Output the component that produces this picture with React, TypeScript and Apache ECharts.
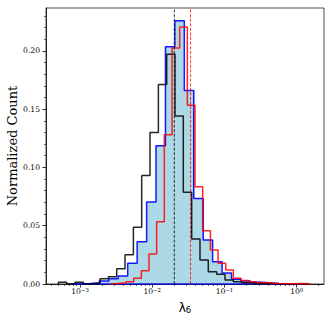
import React, { useEffect, useRef } from "react";
import * as echarts from "echarts";

// x axis is drawn in log10(lambda_6) space
const X_MIN_LOG = -3.471;
const X_MAX_LOG = 0.378;
const Y_MIN = 0;
const Y_MAX = 0.2367;

const X_MAJOR_TICKS = [-3, -2, -1, 0];
const X_TICK_EXPONENTS = ["\u22123", "\u22122", "\u22121", "0"];
const Y_MAJOR_TICKS = [0, 0.05, 0.1, 0.15, 0.2];
const Y_MINOR_TICKS = [0.01, 0.02, 0.03, 0.04, 0.06, 0.07, 0.08, 0.09, 0.11, 0.12, 0.13, 0.14, 0.16, 0.17, 0.18, 0.19, 0.21, 0.22, 0.23];
const X_MINOR_MULTIPLIERS = [2, 3, 4, 5, 6, 7, 8, 9];
const X_MINOR_DECADES = [-4, -3, -2, -1, 0];

// bin edges, log10(lambda_6)
const BLACK_EDGES = [-3.299, -3.184, -3.068, -2.953, -2.838, -2.723, -2.607, -2.492, -2.377, -2.261, -2.146, -2.031, -1.915, -1.8, -1.685, -1.57, -1.454, -1.339, -1.224, -1.108, -0.993, -0.878, -0.762, -0.647, -0.532, -0.417, -0.301, -0.186, -0.071, 0.045, 0.16];
const BLACK_COUNTS = [0.0015, 0.0003, 0.0015, 0, 0.0006, 0.0045, 0.0063, 0.013, 0.025, 0.0487, 0.093, 0.13, 0.171, 0.197, 0.144, 0.0786, 0.0385, 0.0206, 0.0106, 0.0084, 0.0035, 0.002, 0.001, 0.0005, 0.0003, 0.0002, 0, 0.0001, 0, 0.0001];

const BLUE_EDGES = [-3.124, -2.993, -2.862, -2.732, -2.601, -2.471, -2.34, -2.209, -2.078, -1.948, -1.817, -1.687, -1.556, -1.425, -1.294, -1.164, -1.033, -0.902, -0.772, -0.641, -0.51, -0.379, -0.249, -0.118, 0.013, 0.143];
const BLUE_COUNTS = [0.0003, 0.0005, 0.001, 0.0025, 0.0045, 0.0069, 0.0177, 0.0363, 0.0703, 0.1186, 0.2034, 0.2257, 0.166, 0.0734, 0.0377, 0.0191, 0.0094, 0.004, 0.0025, 0.0015, 0.001, 0.0005, 0.0003, 0.0002, 0.0001];

const RED_EDGES = [-2.576, -2.47, -2.364, -2.257, -2.151, -2.045, -1.939, -1.833, -1.726, -1.62, -1.514, -1.408, -1.302, -1.195, -1.089, -0.983, -0.877, -0.771, -0.664, -0.558, -0.452, -0.346, -0.24, -0.133, -0.027, 0.079, 0.185];
const RED_COUNTS = [0.0005, 0.001, 0.002, 0.0049, 0.0114, 0.0257, 0.0534, 0.128, 0.2025, 0.2205, 0.1534, 0.0834, 0.0457, 0.0291, 0.0177, 0.012, 0.0049, 0.003, 0.002, 0.0012, 0.0008, 0.0005, 0.0003, 0.0002, 0.0005, 0.0003];

// medians (lambda_6 values)
const MEDIAN_BLACK = 0.0202;
const MEDIAN_RED = 0.0339;

const SERIF = "DejaVu Serif";

function stepPoints(edges: number[], counts: number[], closeBase: boolean) {
  const pts: number[][] = [[edges[0], 0]];
  counts.forEach((c, i) => {
    pts.push([edges[i], c]);
    pts.push([edges[i + 1], c]);
  });
  pts.push([edges[counts.length], 0]);
  if (closeBase) pts.push([edges[0], 0]);
  return pts;
}

function vline(value: number) {
  const lx = Math.log10(value);
  return [
    [lx, Y_MIN],
    [lx, Y_MAX],
  ];
}

export default function App() {
  const ref = useRef<HTMLDivElement>(null);
  useEffect(() => {
    if (!ref.current) return;
    const chart = echarts.init(ref.current, null, { renderer: "svg" });
    const xMinor: number[] = [];
    X_MINOR_DECADES.forEach((d) =>
      X_MINOR_MULTIPLIERS.forEach((m) => {
        const v = Math.log10(m) + d;
        if (v > X_MIN_LOG && v < X_MAX_LOG) xMinor.push(v);
      })
    );
    const tickStyle = { color: "#000", width: 0.8 };
    const option: any = {
      animation: false,
      grid: {
        left: 46,
        top: 8,
        right: 8,
        bottom: 37,
        show: true,
        borderColor: "#222",
        borderWidth: 0.8,
        backgroundColor: "transparent",
      },
      xAxis: [
        {
          type: "value",
          position: "bottom",
          min: X_MIN_LOG,
          max: X_MAX_LOG,
          axisLine: { show: true, onZero: false, lineStyle: { color: "#000", width: 0.8 } },
          axisTick: { show: true, inside: false, length: 3.5, lineStyle: tickStyle, customValues: X_MAJOR_TICKS },
          axisLabel: {
            show: true,
            customValues: X_MAJOR_TICKS,
            margin: 3,
            color: "#000",
            formatter: (v: number) => {
              const i = X_MAJOR_TICKS.indexOf(Math.round(v));
              return i < 0 ? "" : "{b|10}{s|" + X_TICK_EXPONENTS[i] + "}";
            },
            rich: {
              b: { fontFamily: SERIF, fontSize: 7.6, lineHeight: 8, verticalAlign: "bottom", padding: [3, 0, 0, 0], color: "#000" },
              s: { fontFamily: SERIF, fontSize: 5.4, lineHeight: 6, verticalAlign: "top", color: "#000" },
            },
          },
          splitLine: { show: false },
        },
        {
          type: "value",
          position: "bottom",
          min: X_MIN_LOG,
          max: X_MAX_LOG,
          axisLine: { show: false, onZero: false },
          axisTick: { show: true, inside: false, length: 2, lineStyle: { color: "#000", width: 0.6 }, customValues: xMinor },
          axisLabel: { show: false },
          splitLine: { show: false },
        },
      ],
      yAxis: [
        {
          type: "value",
          position: "left",
          min: Y_MIN,
          max: Y_MAX,
          axisLine: { show: true, onZero: false, lineStyle: { color: "#000", width: 0.8 } },
          axisTick: { show: true, inside: false, length: 3.5, lineStyle: tickStyle, customValues: Y_MAJOR_TICKS },
          axisLabel: {
            show: true,
            customValues: Y_MAJOR_TICKS,
            margin: 6,
            fontFamily: SERIF,
            fontSize: 7.6,
            color: "#000",
            formatter: (v: number) => v.toFixed(2),
          },
          splitLine: { show: false },
        },
        {
          type: "value",
          position: "left",
          min: Y_MIN,
          max: Y_MAX,
          axisLine: { show: false, onZero: false },
          axisTick: { show: true, inside: false, length: 2, lineStyle: { color: "#000", width: 0.6 }, customValues: Y_MINOR_TICKS },
          axisLabel: { show: false },
          splitLine: { show: false },
        },
      ],
      series: [
        {
          type: "line",
          name: "blue",
          data: stepPoints(BLUE_EDGES, BLUE_COUNTS, true),
          symbol: "none",
          lineStyle: { color: "#0000ff", width: 1.5, opacity: 0.9 },
          areaStyle: { color: "#add8e6", opacity: 1 },
          z: 2,
        },
        {
          type: "line",
          name: "black",
          data: stepPoints(BLACK_EDGES, BLACK_COUNTS, false),
          symbol: "none",
          lineStyle: { color: "#000000", width: 1.5, opacity: 0.85 },
          z: 3,
        },
        {
          type: "line",
          name: "red",
          data: stepPoints(RED_EDGES, RED_COUNTS, false),
          symbol: "none",
          lineStyle: { color: "#ff0000", width: 1.5, opacity: 0.85 },
          z: 4,
        },
        {
          type: "line",
          name: "median black",
          data: vline(MEDIAN_BLACK),
          symbol: "none",
          lineStyle: { color: "#000", width: 0.8, type: [3, 1.6] },
          z: 5,
        },
        {
          type: "line",
          name: "median red",
          data: vline(MEDIAN_RED),
          symbol: "none",
          lineStyle: { color: "#ff0000", width: 0.8, type: [3, 1.6] },
          z: 5,
        },
      ],
      graphic: [
        {
          type: "text",
          x: 12.5,
          y: 146,
          rotation: Math.PI / 2,
          style: {
            text: "Normalized Count",
            fontFamily: SERIF,
            fontSize: 13,
            fill: "#000",
            textAlign: "center",
            textVerticalAlign: "middle",
          },
        },
        {
          type: "text",
          x: 185,
          y: 308,
          style: {
            text: "{l|\u03BB}{s|6}",
            textAlign: "center",
            textVerticalAlign: "middle",
            rich: {
              l: { fontFamily: "DejaVu Sans", fontSize: 12, lineHeight: 12, verticalAlign: "top", fill: "#000" },
              s: { fontFamily: "DejaVu Sans", fontSize: 8.5, lineHeight: 9, verticalAlign: "bottom", padding: [6, 0, 0, 0], fill: "#000" },
            },
          },
        },
      ],
    };
    chart.setOption(option);
    return () => chart.dispose();
  }, []);
  return <div ref={ref} style={{ position: "absolute", left: 0, top: 0, width: 332, height: 321 }} />;
}
